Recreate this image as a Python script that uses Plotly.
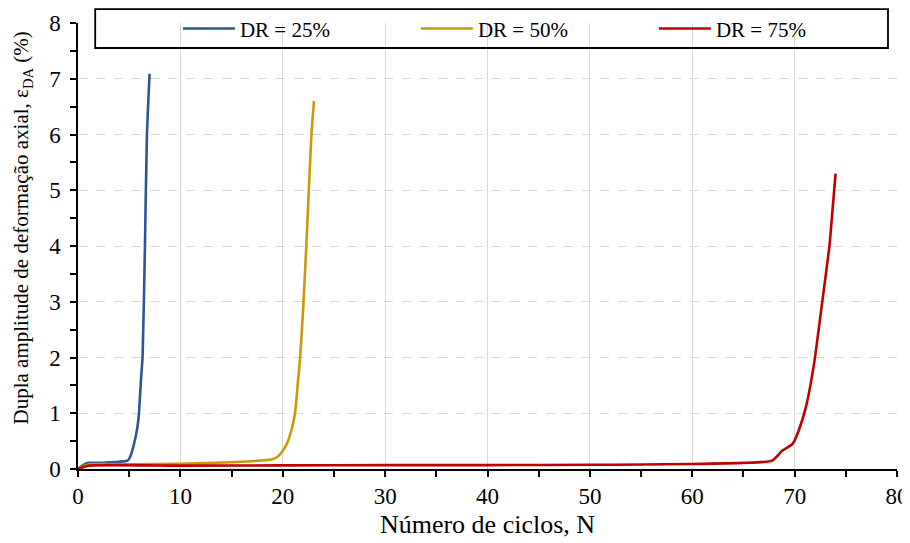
import plotly.graph_objects as go

# DR = 25%
n_25 = [0, 0.5, 1.0, 2.0, 3.0, 4.0, 4.85, 5.1, 5.5, 5.8, 5.95, 6.15, 6.31, 6.54, 6.73, 6.99]
e_25 = [0, 0.07, 0.11, 0.11, 0.12, 0.13, 0.15, 0.22, 0.47, 0.75, 0.99, 1.6, 2.02, 4.0, 5.98, 7.09]
# DR = 50%
n_50 = [0, 1, 5, 10, 15, 17, 18.9, 19.5, 19.9, 20.4, 20.85, 21.2, 21.5, 21.7, 22.0, 22.3, 22.8, 23.05]
e_50 = [0, 0.08, 0.085, 0.095, 0.12, 0.14, 0.17, 0.22, 0.3, 0.45, 0.7, 1.0, 1.6, 2.0, 2.9, 4.0, 6.0, 6.6]
# DR = 75%
n_75 = [0, 1, 10, 20, 30, 40, 50, 55, 60, 65, 67.8, 68.8, 69.8, 70.4, 71.1, 71.9, 72.7, 73.4, 73.7, 74.0]
e_75 = [0, 0.06, 0.06, 0.065, 0.07, 0.07, 0.075, 0.08, 0.09, 0.11, 0.15, 0.33, 0.45, 0.69, 1.11, 1.89, 3.0, 4.0, 4.64, 5.3]

series_names = ["DR = 25%", "DR = 50%", "DR = 75%"]
colors = ["#2F5597", "#C99A06", "#C00000"]

x_ticks = list(range(0, 81, 10))
y_ticks = list(range(0, 9, 1))

x_title = "Número de ciclos, N"
y_title = "Dupla amplitude de deformação axial, ε<sub>DA</sub> (%)"

FONT = "Liberation Serif, Times New Roman, serif"

fig = go.Figure()
for xs, ys, name, c in zip([n_25, n_50, n_75], [e_25, e_50, e_75], series_names, colors):
    fig.add_trace(go.Scatter(x=xs, y=ys, mode="lines", name=name,
                             line=dict(color=c, width=2.6, shape="spline", smoothing=0.5)))

fig.update_layout(
    width=902, height=535,
    margin=dict(l=70, r=13, t=15, b=74, autoexpand=False),
    paper_bgcolor="white", plot_bgcolor="white",
    font=dict(family=FONT, color="black", size=20),
    showlegend=True,
    legend=dict(orientation="h", x=0.122, y=0.987, xanchor="left", yanchor="middle",
                bgcolor="rgba(0,0,0,0)", borderwidth=0,
                font=dict(family=FONT, size=21, color="black"),
                entrywidth=171, entrywidthmode="pixels", itemwidth=52,
                traceorder="normal"),
    xaxis=dict(range=[0, 80], tickvals=x_ticks, ticktext=[str(v) for v in x_ticks],
               showline=True, linecolor="black", linewidth=1.5,
               ticks="outside", ticklen=6, tickwidth=1.5, tickcolor="black",
               minor=dict(dtick=5, ticks="outside", ticklen=6, tickwidth=1.5, tickcolor="black", showgrid=False),
               showgrid=True, gridcolor="#D9D9D9", gridwidth=1,
               zeroline=False, tickfont=dict(family=FONT, size=23), automargin=False,
               title=dict(text=x_title, font=dict(size=26), standoff=6),
               mirror=False),
    yaxis=dict(range=[0, 8], tickvals=y_ticks, ticktext=[str(v) for v in y_ticks],
               showline=True, linecolor="black", linewidth=1.5,
               ticks="outside", ticklen=6, tickwidth=1.5, tickcolor="black",
               minor=dict(dtick=0.5, ticks="outside", ticklen=6, tickwidth=1.5, tickcolor="black", showgrid=False),
               showgrid=True, gridcolor="#D9D9D9", gridwidth=1, griddash="dash",
               zeroline=False, tickfont=dict(family=FONT, size=23), automargin=False,
               ticklabelstandoff=5),
)

# y-axis title (placed like the original, slightly above the axis centre)
fig.add_annotation(text=y_title, xref="paper", yref="paper", x=-0.068, y=0.54,
                   xanchor="center", yanchor="middle", textangle=-90, showarrow=False,
                   font=dict(family=FONT, size=21, color="black"))

# legend frame
fig.add_shape(type="rect", xref="paper", yref="paper",
              x0=0.021, x1=0.989, y0=0.944, y1=1.031,
              line=dict(color="black", width=1.8), fillcolor="rgba(0,0,0,0)", layer="above")

fig.write_html("out.html")
